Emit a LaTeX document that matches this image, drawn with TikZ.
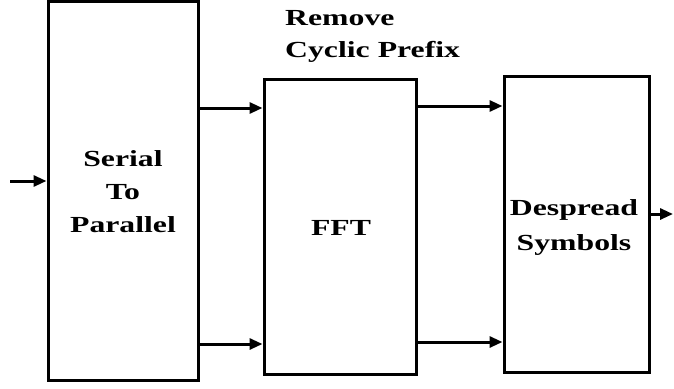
\documentclass[tikz,border=0pt]{standalone}
\usepackage{fontspec}
\setmainfont{Liberation Serif}
\usetikzlibrary{arrows.meta}
\newcommand{\wide}[1]{\scalebox{1.38}[1]{#1}}
\begin{document}
\begin{tikzpicture}[x=1pt,y=-1pt,
  blk/.style={draw,line width=3pt,minimum width=#1,inner sep=0pt},
  arr/.style={line width=3pt,-{Triangle[length=13pt,width=11pt]}},
  txt/.style={anchor=base,inner sep=0pt,font=\bfseries\fontsize{23}{30}\selectfont}]
\useasboundingbox (0,0) rectangle (674,388);
\node[blk=150pt,minimum height=379pt] (sp) at (123,190.5) {};
\node[blk=152pt,minimum height=295pt] (fft) at (340,226.5) {};
\node[blk=145pt,minimum height=296pt] (ds) at (576.5,224) {};
% texts
\node[txt] (t1) at (123,166) {\wide{Serial}};
\node[txt] (t2) at (123,199) {\wide{To}};
\node[txt] (t3) at (123,232) {\wide{Parallel}};
\node[txt] (t4) at (341,235) {\wide{FFT}};
\node[txt] (t5) at (574,215) {\wide{Despread}};
\node[txt] (t6) at (574,250) {\wide{Symbols}};
\node[txt,anchor=base west] (t7) at (285,25) {\wide{Remove}};
\node[txt,anchor=base west] (t8) at (285,57) {\wide{Cyclic Prefix}};
% connectors
\coordinate (in) at (10,181);
\coordinate (out) at (673,214);
\draw[arr] (in) -- (in -| sp.west);
\draw[arr] (sp.east |- 0,108) -- (fft.west |- 0,108);
\draw[arr] (sp.east |- 0,344) -- (fft.west |- 0,344);
\draw[arr] (fft.east |- 0,106) -- (ds.west |- 0,106);
\draw[arr] (fft.east |- 0,342) -- (ds.west |- 0,342);
\draw[arr] (ds.east |- out) -- (out);
\end{tikzpicture}
\end{document}
